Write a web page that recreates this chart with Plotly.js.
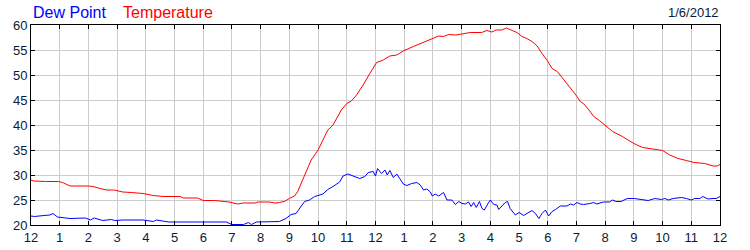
<!DOCTYPE html>
<html>
<head>
<meta charset="utf-8">
<script src="https://cdn.plot.ly/plotly-3.0.1.min.js"></script>
<style>html,body{margin:0;padding:0;background:#fff;}#chart{width:750px;height:250px;}</style>
</head>
<body>
<div id="chart"></div>
<script>
// Hours since midnight (0..24) and values in °F
var tempHours = [0,0.1,0.5,0.95,1.1,1.36,2.0,2.16,2.4,2.64,2.9,3.2,3.5,3.9,4.26,4.6,5.2,5.3,5.8,6.0,6.4,6.9,7.2,7.4,7.8,7.9,8.3,8.5,8.65,8.82,9.0,9.18,9.29,9.41,9.58,9.76,10.0,10.17,10.34,10.52,10.81,11.0,11.16,11.34,11.57,11.8,12.04,12.27,12.5,12.74,13.0,13.32,13.67,13.9,14.02,14.2,14.37,14.55,14.8,15.0,15.3,15.7,15.88,16.05,16.2,16.4,16.56,16.76,16.93,17.1,17.27,17.45,17.63,17.8,17.98,18.15,18.33,18.5,18.67,18.85,19.02,19.13,19.26,19.49,19.6,19.8,20.0,20.26,20.6,21.0,21.3,21.6,22.0,22.25,22.54,22.83,23.1,23.47,23.76,23.9,24.0];
var tempValues = [29.0,28.8,28.7,28.7,28.5,27.8,27.8,27.7,27.3,27.0,27.0,26.6,26.5,26.3,25.9,25.7,25.7,25.4,25.4,24.9,24.9,24.6,24.2,24.4,24.4,24.6,24.6,24.4,24.5,24.7,25.3,25.8,26.7,28.3,30.7,33.0,35.0,37.0,39.0,40.0,43.0,44.3,44.8,46.0,48.0,50.3,52.5,53.0,53.8,54.0,54.9,55.7,56.5,57.0,57.3,57.8,57.7,58.1,58.0,58.2,58.5,58.5,58.9,58.6,59.0,59.0,59.4,58.9,58.5,57.7,57.3,56.7,55.8,54.3,52.9,51.3,50.7,49.5,48.3,46.9,45.7,44.7,44.2,42.6,41.7,40.9,40.0,38.7,37.7,36.3,35.5,35.2,34.9,34.0,33.3,32.9,32.5,32.3,31.8,31.8,32.1];

var dewHours = [0,0.12,0.45,0.65,0.77,0.92,1.36,1.9,2.07,2.2,2.5,2.8,2.92,3.2,3.9,4.26,4.37,4.8,5.7,6.6,6.8,7.0,7.4,7.57,7.68,7.85,8.65,8.88,9.06,9.23,9.35,9.53,9.7,9.88,10.17,10.34,10.52,10.63,10.75,10.87,11.04,11.22,11.45,11.63,11.75,11.92,12.0,12.07,12.21,12.33,12.41,12.5,12.62,12.74,12.85,12.97,13.09,13.26,13.44,13.56,13.67,13.79,13.91,13.98,14.08,14.2,14.37,14.49,14.66,14.78,14.9,15.01,15.13,15.24,15.33,15.42,15.51,15.62,15.71,15.79,15.91,16.0,16.12,16.23,16.29,16.41,16.52,16.6,16.69,16.87,17.0,17.16,17.34,17.45,17.57,17.69,17.8,17.92,18.03,18.15,18.27,18.44,18.67,18.79,18.9,19.02,19.13,19.25,19.48,19.6,19.71,19.94,20.15,20.26,20.38,20.55,20.77,21.02,21.25,21.5,21.73,21.96,22.08,22.2,22.37,22.66,22.83,23.0,23.12,23.3,23.4,23.58,23.76,23.87,24.0];
var dewValues = [21.8,21.7,21.9,22.0,22.3,21.6,21.3,21.4,21.0,21.4,20.9,21.1,20.9,21.0,21.0,20.7,21.0,20.6,20.6,20.6,20.6,20.1,20.1,20.5,20.1,20.6,20.7,21.3,22.1,22.3,23.3,24.7,25.0,25.7,26.2,27.1,27.7,28.1,28.6,29.8,30.2,29.8,29.3,29.7,30.5,30.7,29.8,31.3,30.3,31.0,30.0,30.9,29.5,30.2,29.3,28.2,27.9,28.3,28.5,28.0,27.0,27.2,26.6,25.8,26.2,25.8,26.5,25.0,25.0,24.1,24.7,24.3,24.2,24.6,23.7,24.5,23.5,24.7,23.3,23.0,24.2,25.0,24.1,24.0,23.1,23.8,24.5,24.7,23.3,22.0,22.5,21.9,22.5,22.9,22.3,21.3,22.3,23.0,21.8,22.7,23.1,23.8,23.8,24.2,24.0,24.5,24.2,24.1,24.3,24.5,24.2,24.6,24.6,25.0,24.7,24.7,25.3,25.3,25.1,24.9,25.3,25.1,25.3,25.0,25.3,25.5,25.3,25.0,25.3,25.3,25.7,25.2,25.3,25.3,25.7];

var xTickVals = [0,1,2,3,4,5,6,7,8,9,10,11,12,13,14,15,16,17,18,19,20,21,22,23,24];
var xTickText = ['12','1','2','3','4','5','6','7','8','9','10','11','12','1','2','3','4','5','6','7','8','9','10','11','12'];
var yTickVals = [20,25,30,35,40,45,50,55,60];

var dateLabel = '1/6/2012';
var dewLabel = 'Dew Point';
var tempLabel = 'Temperature';

var tickColor = '#0b1a3c';
var fontFam = 'Liberation Sans, Arial, sans-serif';

var traces = [
  {x: tempHours, y: tempValues, type: 'scatter', mode: 'lines', line: {color: '#ff0000', width: 1}, hoverinfo: 'none'},
  {x: dewHours, y: dewValues, type: 'scatter', mode: 'lines', line: {color: '#0000ff', width: 1}, hoverinfo: 'none'}
];

var layout = {
  width: 750, height: 250,
  margin: {l: 31, r: 30, t: 25, b: 25, pad: 0},
  paper_bgcolor: '#ffffff', plot_bgcolor: '#ffffff',
  showlegend: false,
  font: {family: fontFam, size: 13, color: tickColor},
  xaxis: {
    range: [0, 24], tickvals: xTickVals, ticktext: xTickText,
    showgrid: true, gridcolor: '#cccccc', gridwidth: 1,
    ticks: 'inside', ticklen: 4, tickcolor: '#000', tickwidth: 1,
    showline: true, linecolor: '#000', linewidth: 1, mirror: 'ticks',
    zeroline: false, fixedrange: true,
    tickfont: {family: fontFam, size: 13, color: tickColor}
  },
  yaxis: {
    range: [20, 60], tickvals: yTickVals,
    showgrid: true, gridcolor: '#cccccc', gridwidth: 1,
    ticks: 'inside', ticklen: 4, tickcolor: '#000', tickwidth: 1,
    showline: true, linecolor: '#000', linewidth: 1, mirror: 'ticks',
    zeroline: false, fixedrange: true,
    tickfont: {family: fontFam, size: 13, color: tickColor}
  },
  yaxis2: {
    overlaying: 'y', side: 'right', matches: 'y',
    range: [20, 60], tickvals: yTickVals,
    showgrid: false, ticks: 'inside', ticklen: 4, tickcolor: '#000',
    showline: false, zeroline: false, fixedrange: true,
    tickfont: {family: fontFam, size: 13, color: tickColor}
  },
  annotations: [
    {text: dewLabel, xref: 'paper', yref: 'paper', x: 0, y: 1, xanchor: 'left', yanchor: 'bottom',
     xshift: 0, yshift: 2, showarrow: false, font: {family: fontFam, size: 16, color: '#0000ff'}},
    {text: tempLabel, xref: 'paper', yref: 'paper', x: 0, y: 1, xanchor: 'left', yanchor: 'bottom',
     xshift: 90, yshift: 2, showarrow: false, font: {family: fontFam, size: 16, color: '#ff0000'}},
    {text: dateLabel, xref: 'paper', yref: 'paper', x: 1, y: 1, xanchor: 'right', yanchor: 'bottom',
     xshift: 1, yshift: 3, showarrow: false, font: {family: fontFam, size: 13, color: tickColor}}
  ]
};

Plotly.newPlot('chart', traces, layout, {staticPlot: true, displayModeBar: false});
</script>
</body>
</html>
